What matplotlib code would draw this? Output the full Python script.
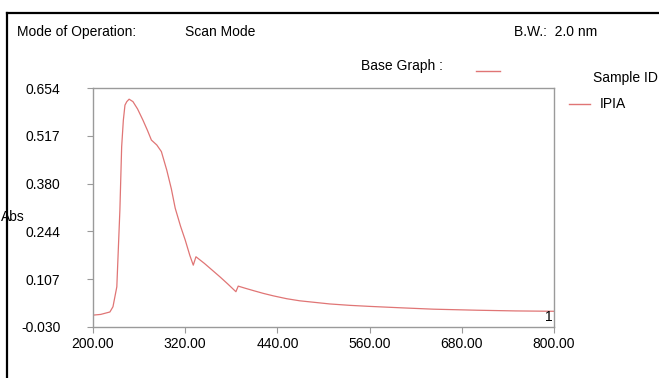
import matplotlib
matplotlib.use('Agg')
import matplotlib.pyplot as plt
from matplotlib.lines import Line2D

plt.rcParams['font.family'] = ['Liberation Sans', 'DejaVu Sans']

# spectrum (wavelength nm, absorbance)
wavelength = [200, 210, 222, 226, 231, 235, 237.3, 239.5, 241.6, 244, 247, 252, 258, 265,
              271, 276, 283, 289, 296, 302, 307, 314, 320, 326, 330.5, 334, 345, 355, 365,
              375, 386, 389, 398, 409, 422, 435, 452, 469, 482, 508, 534, 560, 600, 643,
              700, 750, 800]
absorbance = [0.004, 0.006, 0.013, 0.028, 0.085, 0.305, 0.486, 0.562, 0.605, 0.615, 0.622,
              0.615, 0.594, 0.562, 0.532, 0.505, 0.491, 0.472, 0.419, 0.365, 0.310, 0.258,
              0.219, 0.175, 0.147, 0.171, 0.152, 0.133, 0.114, 0.094, 0.071, 0.087, 0.081,
              0.074, 0.066, 0.059, 0.051, 0.045, 0.042, 0.036, 0.032, 0.029, 0.025, 0.021,
              0.018, 0.016, 0.015]

x_ticks = [200, 320, 440, 560, 680, 800]
y_ticks = [-0.030, 0.107, 0.244, 0.380, 0.517, 0.654]

line_color = '#e07575'
frame_color = '#9a9a9a'

W, H = 659, 378
fig = plt.figure(figsize=(W / 100, H / 100), dpi=100)
ax = fig.add_axes([93 / W, 1 - 327 / H, (554 - 93) / W, (327 - 88) / H])

ax.plot(wavelength, absorbance, color=line_color, lw=0.9)
ax.set_xlim(200, 800)
ax.set_ylim(-0.030, 0.654)
ax.set_xticks(x_ticks)
ax.set_xticklabels(['%.2f' % v for v in x_ticks])
ax.set_yticks(y_ticks)
ax.set_yticklabels(['%.3f' % v for v in y_ticks])
for s in ax.spines.values():
    s.set_color(frame_color)
    s.set_linewidth(1.0)
ax.tick_params(axis='x', direction='out', length=4, color=frame_color, labelsize=10, pad=3)
ax.tick_params(axis='y', direction='out', length=4, color=frame_color, labelsize=10, pad=19.4)
ax.text(0.996, 0.012, '1', transform=ax.transAxes, ha='right', va='bottom', fontsize=10)

# header texts
fs = 10
fig.text(17 / W, 1 - 32 / H, 'Mode of Operation:', fontsize=fs, va='center')
fig.text(185 / W, 1 - 32 / H, 'Scan Mode', fontsize=fs, va='center')
fig.text(514 / W, 1 - 32 / H, 'B.W.:  2.0 nm', fontsize=fs, va='center')
fig.text(361 / W, 1 - 66 / H, 'Base Graph :', fontsize=fs, va='center')
fig.add_artist(Line2D([476 / W, 500 / W], [1 - 71 / H, 1 - 71 / H], color=line_color, lw=1))
fig.text(593 / W, 1 - 78 / H, 'Sample ID', fontsize=fs, va='center')
fig.add_artist(Line2D([569 / W, 590 / W], [1 - 104 / H, 1 - 104 / H], color=line_color, lw=1))
fig.text(600 / W, 1 - 104 / H, 'IPIA', fontsize=fs, va='center')
fig.text(1 / W, 1 - 217 / H, 'Abs', fontsize=fs, va='center')

# black page border (top and left)
fig.add_artist(Line2D([7 / W, 1], [1 - 13 / H, 1 - 13 / H], color='black', lw=1.6))
fig.add_artist(Line2D([7 / W, 7 / W], [0, 1 - 13 / H], color='black', lw=1.6))

fig.savefig('out.png', dpi=100)
